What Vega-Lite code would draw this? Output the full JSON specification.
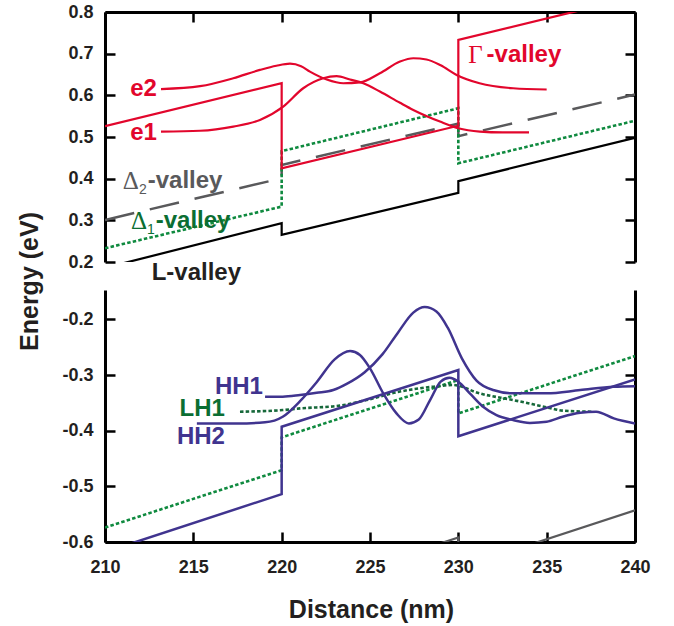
{
  "$schema": "https://vega.github.io/schema/vega-lite/v6.json",
  "background": "white",
  "padding": {"left": 17, "top": 3, "right": 5, "bottom": 5},
  "bounds": "flush",
  "spacing": 28,
  "config": {
    "view": {"stroke": null},
    "axis": {
      "grid": false, "domainColor": "black", "tickColor": "black", "domainWidth": 3, "tickWidth": 2.5, "tickSize": -10,
      "labelFont": "Liberation Sans", "labelFontWeight": "bold", "labelFontSize": 18, "labelColor": "#231f20",
      "labelFlush": false, "labelOverlap": false,
      "titleFont": "Liberation Sans", "titleFontWeight": "bold", "titleFontSize": 25, "titleColor": "#231f20"
    }
  },
  "datasets": {
    "top": [
      {"s": "L", "i": 0, "x": 210, "y": 0.186}, {"s": "L", "i": 1, "x": 220, "y": 0.293}, {"s": "L", "i": 2, "x": 220, "y": 0.265},
      {"s": "L", "i": 3, "x": 230, "y": 0.366}, {"s": "L", "i": 4, "x": 230, "y": 0.394}, {"s": "L", "i": 5, "x": 240, "y": 0.498},
      {"s": "D2", "i": 0, "x": 210, "y": 0.301}, {"s": "D2", "i": 1, "x": 220, "y": 0.401}, {"s": "D2", "i": 2, "x": 220, "y": 0.433},
      {"s": "D2", "i": 3, "x": 230, "y": 0.532}, {"s": "D2", "i": 4, "x": 230, "y": 0.502}, {"s": "D2", "i": 5, "x": 240, "y": 0.602},
      {"s": "D1", "i": 0, "x": 210, "y": 0.233}, {"s": "D1", "i": 1, "x": 220, "y": 0.333}, {"s": "D1", "i": 2, "x": 220, "y": 0.466},
      {"s": "D1", "i": 3, "x": 230, "y": 0.569}, {"s": "D1", "i": 4, "x": 230, "y": 0.437}, {"s": "D1", "i": 5, "x": 240, "y": 0.539},
      {"s": "G", "i": 0, "x": 210, "y": 0.526}, {"s": "G", "i": 1, "x": 220, "y": 0.629}, {"s": "G", "i": 2, "x": 220, "y": 0.425},
      {"s": "G", "i": 3, "x": 230, "y": 0.527}, {"s": "G", "i": 4, "x": 230, "y": 0.733}, {"s": "G", "i": 5, "x": 240, "y": 0.836},
      {"s": "e1", "i": 0, "x": 213.17, "y": 0.513}, {"s": "e1", "i": 1, "x": 215.38, "y": 0.515}, {"s": "e1", "i": 2, "x": 217.26, "y": 0.525},
      {"s": "e1", "i": 3, "x": 218.77, "y": 0.541}, {"s": "e1", "i": 4, "x": 220.09, "y": 0.573}, {"s": "e1", "i": 5, "x": 221.22, "y": 0.617},
      {"s": "e1", "i": 6, "x": 222.35, "y": 0.641}, {"s": "e1", "i": 7, "x": 223.11, "y": 0.646}, {"s": "e1", "i": 8, "x": 223.87, "y": 0.638},
      {"s": "e1", "i": 9, "x": 224.62, "y": 0.629}, {"s": "e1", "i": 10, "x": 225.56, "y": 0.609}, {"s": "e1", "i": 11, "x": 226.7, "y": 0.582},
      {"s": "e1", "i": 12, "x": 227.45, "y": 0.565}, {"s": "e1", "i": 13, "x": 228.96, "y": 0.537}, {"s": "e1", "i": 14, "x": 229.99, "y": 0.521},
      {"s": "e1", "i": 15, "x": 231.22, "y": 0.513}, {"s": "e1", "i": 16, "x": 232.5, "y": 0.511}, {"s": "e1", "i": 17, "x": 234.0, "y": 0.511},
      {"s": "e2", "i": 0, "x": 213.17, "y": 0.615}, {"s": "e2", "i": 1, "x": 215.38, "y": 0.622}, {"s": "e2", "i": 2, "x": 217.26, "y": 0.641},
      {"s": "e2", "i": 3, "x": 218.77, "y": 0.661}, {"s": "e2", "i": 4, "x": 219.7, "y": 0.671}, {"s": "e2", "i": 5, "x": 220.47, "y": 0.676},
      {"s": "e2", "i": 6, "x": 221.1, "y": 0.670}, {"s": "e2", "i": 7, "x": 221.6, "y": 0.657}, {"s": "e2", "i": 8, "x": 222.55, "y": 0.638},
      {"s": "e2", "i": 9, "x": 223.49, "y": 0.629}, {"s": "e2", "i": 10, "x": 224.43, "y": 0.631}, {"s": "e2", "i": 11, "x": 225.56, "y": 0.653},
      {"s": "e2", "i": 12, "x": 226.7, "y": 0.681}, {"s": "e2", "i": 13, "x": 227.45, "y": 0.689}, {"s": "e2", "i": 14, "x": 228.2, "y": 0.686},
      {"s": "e2", "i": 15, "x": 229.0, "y": 0.672}, {"s": "e2", "i": 16, "x": 229.9, "y": 0.649}, {"s": "e2", "i": 17, "x": 231.2, "y": 0.629},
      {"s": "e2", "i": 18, "x": 233.1, "y": 0.617}, {"s": "e2", "i": 19, "x": 235.0, "y": 0.614}
    ],
    "bot": [
      {"s": "HH", "i": 0, "x": 210, "y": -0.618}, {"s": "HH", "i": 1, "x": 220, "y": -0.514}, {"s": "HH", "i": 2, "x": 220, "y": -0.393},
      {"s": "HH", "i": 3, "x": 230, "y": -0.291}, {"s": "HH", "i": 4, "x": 230, "y": -0.410}, {"s": "HH", "i": 5, "x": 240, "y": -0.308},
      {"s": "LH", "i": 0, "x": 210, "y": -0.574}, {"s": "LH", "i": 1, "x": 220, "y": -0.471}, {"s": "LH", "i": 2, "x": 220, "y": -0.412},
      {"s": "LH", "i": 3, "x": 230, "y": -0.309}, {"s": "LH", "i": 4, "x": 230, "y": -0.369}, {"s": "LH", "i": 5, "x": 240, "y": -0.266},
      {"s": "GR", "i": 0, "x": 220, "y": -0.695}, {"s": "GR", "i": 1, "x": 230, "y": -0.592}, {"s": "GR", "i": 2, "x": 230, "y": -0.647},
      {"s": "GR", "i": 3, "x": 240, "y": -0.543},
      {"s": "HH1", "i": 0, "x": 219.06, "y": -0.339}, {"s": "HH1", "i": 1, "x": 220.06, "y": -0.339}, {"s": "HH1", "i": 2, "x": 221.04, "y": -0.336},
      {"s": "HH1", "i": 3, "x": 221.98, "y": -0.332}, {"s": "HH1", "i": 4, "x": 222.92, "y": -0.327}, {"s": "HH1", "i": 5, "x": 223.68, "y": -0.316},
      {"s": "HH1", "i": 6, "x": 224.7, "y": -0.295}, {"s": "HH1", "i": 7, "x": 225.7, "y": -0.263}, {"s": "HH1", "i": 8, "x": 226.6, "y": -0.223},
      {"s": "HH1", "i": 9, "x": 227.45, "y": -0.188}, {"s": "HH1", "i": 10, "x": 228.1, "y": -0.178}, {"s": "HH1", "i": 11, "x": 228.76, "y": -0.186},
      {"s": "HH1", "i": 12, "x": 229.4, "y": -0.215}, {"s": "HH1", "i": 13, "x": 230.2, "y": -0.270}, {"s": "HH1", "i": 14, "x": 231.03, "y": -0.310},
      {"s": "HH1", "i": 15, "x": 231.97, "y": -0.327}, {"s": "HH1", "i": 16, "x": 233.1, "y": -0.333}, {"s": "HH1", "i": 17, "x": 235.0, "y": -0.333},
      {"s": "HH1", "i": 18, "x": 236.9, "y": -0.327}, {"s": "HH1", "i": 19, "x": 238.8, "y": -0.321}, {"s": "HH1", "i": 20, "x": 240.0, "y": -0.320},
      {"s": "HH2", "i": 0, "x": 215.2, "y": -0.387}, {"s": "HH2", "i": 1, "x": 217.5, "y": -0.387}, {"s": "HH2", "i": 2, "x": 219.06, "y": -0.385},
      {"s": "HH2", "i": 3, "x": 220.06, "y": -0.375}, {"s": "HH2", "i": 4, "x": 221.04, "y": -0.347}, {"s": "HH2", "i": 5, "x": 221.98, "y": -0.313},
      {"s": "HH2", "i": 6, "x": 223.0, "y": -0.272}, {"s": "HH2", "i": 7, "x": 223.87, "y": -0.257}, {"s": "HH2", "i": 8, "x": 224.43, "y": -0.264},
      {"s": "HH2", "i": 9, "x": 225.0, "y": -0.288}, {"s": "HH2", "i": 10, "x": 225.75, "y": -0.333}, {"s": "HH2", "i": 11, "x": 226.5, "y": -0.369},
      {"s": "HH2", "i": 12, "x": 227.2, "y": -0.387}, {"s": "HH2", "i": 13, "x": 227.76, "y": -0.380}, {"s": "HH2", "i": 14, "x": 228.4, "y": -0.345},
      {"s": "HH2", "i": 15, "x": 229.0, "y": -0.312}, {"s": "HH2", "i": 16, "x": 229.5, "y": -0.305}, {"s": "HH2", "i": 17, "x": 230.0, "y": -0.312},
      {"s": "HH2", "i": 18, "x": 230.65, "y": -0.333}, {"s": "HH2", "i": 19, "x": 231.4, "y": -0.357}, {"s": "HH2", "i": 20, "x": 232.16, "y": -0.372},
      {"s": "HH2", "i": 21, "x": 233.1, "y": -0.381}, {"s": "HH2", "i": 22, "x": 234.05, "y": -0.386}, {"s": "HH2", "i": 23, "x": 235.0, "y": -0.384},
      {"s": "HH2", "i": 24, "x": 235.9, "y": -0.375}, {"s": "HH2", "i": 25, "x": 236.9, "y": -0.368}, {"s": "HH2", "i": 26, "x": 237.8, "y": -0.366},
      {"s": "HH2", "i": 27, "x": 238.8, "y": -0.378}, {"s": "HH2", "i": 28, "x": 240.0, "y": -0.387},
      {"s": "LH1", "i": 0, "x": 217.64, "y": -0.366}, {"s": "LH1", "i": 1, "x": 220.06, "y": -0.363}, {"s": "LH1", "i": 2, "x": 221.04, "y": -0.360},
      {"s": "LH1", "i": 3, "x": 223.3, "y": -0.355}, {"s": "LH1", "i": 4, "x": 224.8, "y": -0.345}, {"s": "LH1", "i": 5, "x": 226.5, "y": -0.331},
      {"s": "LH1", "i": 6, "x": 228.6, "y": -0.321}, {"s": "LH1", "i": 7, "x": 229.7, "y": -0.318}, {"s": "LH1", "i": 8, "x": 231.2, "y": -0.333},
      {"s": "LH1", "i": 9, "x": 233.1, "y": -0.345}, {"s": "LH1", "i": 10, "x": 235.0, "y": -0.358}, {"s": "LH1", "i": 11, "x": 235.9, "y": -0.364},
      {"s": "LH1", "i": 12, "x": 237.6, "y": -0.366}
    ],
    "labels": [
      {"k": "e2", "t": "e2", "x": 212.94, "y": 0.6145},
      {"k": "e1", "t": "e1", "x": 212.94, "y": 0.510},
      {"k": "Gs", "t": "Γ", "x": 230.56, "y": 0.697},
      {"k": "Gv", "t": "-valley", "x": 231.6, "y": 0.697},
      {"k": "D2s", "t": "Δ", "x": 211.0, "y": 0.395},
      {"k": "D2n", "t": "2", "x": 211.93, "y": 0.373},
      {"k": "D2v", "t": "-valley", "x": 212.42, "y": 0.395},
      {"k": "D1s", "t": "Δ", "x": 211.47, "y": 0.299},
      {"k": "D1n", "t": "1", "x": 212.38, "y": 0.277},
      {"k": "D1v", "t": "-valley", "x": 212.87, "y": 0.299},
      {"k": "Lv", "t": "L-valley", "x": 212.64, "y": 0.173},
      {"k": "HH1", "t": "HH1", "x": 218.94, "y": -0.322},
      {"k": "LH1", "t": "LH1", "x": 216.79, "y": -0.361},
      {"k": "HH2", "t": "HH2", "x": 216.79, "y": -0.411}
    ]
  },
  "vconcat": [
    {
      "width": 530,
      "height": 250,
      "resolve": {"axis": {"x": "independent", "y": "independent"}},
      "encoding": {
        "x": {"field": "x", "type": "quantitative", "scale": {"domain": [210, 240], "nice": false, "zero": false}, "axis": null},
        "y": {"field": "y", "type": "quantitative", "scale": {"domain": [0.2, 0.8], "nice": false, "zero": false}, "axis": null},
        "order": {"field": "i"}
      },
      "layer": [
        {
          "data": {"name": "top"},
          "transform": [{"filter": "datum.s === 'L'"}],
          "mark": {"type": "line", "color": "black", "strokeWidth": 2.2, "clip": true},
          "encoding": {
            "x": {"field": "x", "type": "quantitative", "scale": {"domain": [210, 240], "nice": false, "zero": false},
                  "axis": {"orient": "top", "values": [210, 215, 220, 225, 230, 235, 240], "labels": false, "title": null}},
            "y": {"field": "y", "type": "quantitative", "scale": {"domain": [0.2, 0.8], "nice": false, "zero": false},
                  "axis": {"orient": "left", "values": [0.2, 0.3, 0.4, 0.5, 0.6, 0.7, 0.8], "format": ".1f", "labelPadding": 22,
                           "title": "Energy (eV)", "titleAngle": 270, "titleX": -68, "titleY": 269, "titleAlign": "center", "titleBaseline": "alphabetic"}}
          }
        },
        {
          "data": {"name": "top"},
          "transform": [{"filter": "datum.s === 'D2'"}],
          "mark": {"type": "line", "color": "#59595b", "strokeWidth": 2.5, "strokeDash": [30, 16], "clip": true},
          "encoding": {
            "y": {"field": "y", "type": "quantitative", "scale": {"domain": [0.2, 0.8], "nice": false, "zero": false},
                  "axis": {"orient": "right", "values": [0.2, 0.3, 0.4, 0.5, 0.6, 0.7, 0.8], "labels": false, "title": null}}
          }
        },
        {
          "data": {"name": "top"},
          "transform": [{"filter": "datum.s === 'D1'"}],
          "mark": {"type": "line", "color": "#0f8a3f", "strokeWidth": 2.6, "strokeDash": [3.5, 2.2], "clip": true}
        },
        {
          "data": {"name": "top"},
          "transform": [{"filter": "datum.s === 'G'"}],
          "mark": {"type": "line", "color": "#e2062c", "strokeWidth": 2.2, "clip": true}
        },
        {
          "data": {"name": "top"},
          "transform": [{"filter": "datum.s === 'e1' || datum.s === 'e2'"}],
          "mark": {"type": "line", "color": "#e2062c", "strokeWidth": 2.2, "interpolate": "monotone", "clip": true},
          "encoding": {"detail": {"field": "s"}}
        },
        {
          "data": {"name": "labels"},
          "transform": [{"filter": "datum.k === 'e1' || datum.k === 'e2'"}],
          "mark": {"type": "text", "align": "right", "baseline": "middle", "font": "Liberation Sans", "fontWeight": "bold", "fontSize": 24, "color": "#e2062c"},
          "encoding": {"text": {"field": "t"}}
        },
        {
          "data": {"name": "labels"},
          "transform": [{"filter": "datum.k === 'Gs'"}],
          "mark": {"type": "text", "align": "left", "baseline": "middle", "font": "Liberation Serif", "fontSize": 25, "color": "#e2062c"},
          "encoding": {"text": {"field": "t"}}
        },
        {
          "data": {"name": "labels"},
          "transform": [{"filter": "datum.k === 'Gv'"}],
          "mark": {"type": "text", "align": "left", "baseline": "middle", "font": "Liberation Sans", "fontWeight": "bold", "fontSize": 24, "color": "#e2062c"},
          "encoding": {"text": {"field": "t"}}
        },
        {
          "data": {"name": "labels"},
          "transform": [{"filter": "datum.k === 'D2s'"}],
          "mark": {"type": "text", "align": "left", "baseline": "middle", "font": "Liberation Serif", "fontSize": 25, "color": "#59595b"},
          "encoding": {"text": {"field": "t"}}
        },
        {
          "data": {"name": "labels"},
          "transform": [{"filter": "datum.k === 'D2n'"}],
          "mark": {"type": "text", "align": "left", "baseline": "middle", "font": "Liberation Sans", "fontSize": 14, "color": "#59595b"},
          "encoding": {"text": {"field": "t"}}
        },
        {
          "data": {"name": "labels"},
          "transform": [{"filter": "datum.k === 'D2v'"}],
          "mark": {"type": "text", "align": "left", "baseline": "middle", "font": "Liberation Sans", "fontWeight": "bold", "fontSize": 24, "color": "#59595b"},
          "encoding": {"text": {"field": "t"}}
        },
        {
          "data": {"name": "labels"},
          "transform": [{"filter": "datum.k === 'D1s'"}],
          "mark": {"type": "text", "align": "left", "baseline": "middle", "font": "Liberation Serif", "fontSize": 25, "color": "#0b6e33"},
          "encoding": {"text": {"field": "t"}}
        },
        {
          "data": {"name": "labels"},
          "transform": [{"filter": "datum.k === 'D1n'"}],
          "mark": {"type": "text", "align": "left", "baseline": "middle", "font": "Liberation Sans", "fontSize": 14, "color": "#0b6e33"},
          "encoding": {"text": {"field": "t"}}
        },
        {
          "data": {"name": "labels"},
          "transform": [{"filter": "datum.k === 'D1v'"}],
          "mark": {"type": "text", "align": "left", "baseline": "middle", "font": "Liberation Sans", "fontWeight": "bold", "fontSize": 24, "color": "#0b6e33"},
          "encoding": {"text": {"field": "t"}}
        },
        {
          "data": {"name": "labels"},
          "transform": [{"filter": "datum.k === 'Lv'"}],
          "mark": {"type": "text", "align": "left", "baseline": "middle", "font": "Liberation Sans", "fontWeight": "bold", "fontSize": 24, "color": "#231f20"},
          "encoding": {"text": {"field": "t"}}
        }
      ]
    },
    {
      "width": 530,
      "height": 252,
      "resolve": {"axis": {"x": "independent", "y": "independent"}},
      "encoding": {
        "x": {"field": "x", "type": "quantitative", "scale": {"domain": [210, 240], "nice": false, "zero": false}, "axis": null},
        "y": {"field": "y", "type": "quantitative", "scale": {"domain": [-0.6, -0.1473], "nice": false, "zero": false}, "axis": null},
        "order": {"field": "i"}
      },
      "layer": [
        {
          "data": {"name": "bot"},
          "transform": [{"filter": "datum.s === 'GR'"}],
          "mark": {"type": "line", "color": "#59595b", "strokeWidth": 2.2, "clip": true},
          "encoding": {
            "x": {"field": "x", "type": "quantitative", "scale": {"domain": [210, 240], "nice": false, "zero": false},
                  "axis": {"orient": "bottom", "values": [210, 215, 220, 225, 230, 235, 240], "labelPadding": 26,
                           "title": "Distance (nm)", "titleX": 266, "titleY": 75, "titleAlign": "center", "titleBaseline": "alphabetic"}},
            "y": {"field": "y", "type": "quantitative", "scale": {"domain": [-0.6, -0.1473], "nice": false, "zero": false},
                  "axis": {"orient": "left", "values": [-0.6, -0.5, -0.4, -0.3, -0.2], "labelPadding": 22, "title": null,
                           "labelExpr": "replace(format(datum.value, '.1f'), '\u2212', '-')"}}
          }
        },
        {
          "data": {"name": "bot"},
          "transform": [{"filter": "datum.s === 'LH'"}],
          "mark": {"type": "line", "color": "#0f8a3f", "strokeWidth": 2.6, "strokeDash": [3.5, 2.2], "clip": true},
          "encoding": {
            "y": {"field": "y", "type": "quantitative", "scale": {"domain": [-0.6, -0.1473], "nice": false, "zero": false},
                  "axis": {"orient": "right", "values": [-0.6, -0.5, -0.4, -0.3, -0.2], "labels": false, "title": null}}
          }
        },
        {
          "data": {"name": "bot"},
          "transform": [{"filter": "datum.s === 'LH1'"}],
          "mark": {"type": "line", "color": "#16683a", "strokeWidth": 2.6, "strokeDash": [3.5, 2.2], "interpolate": "monotone", "clip": true}
        },
        {
          "data": {"name": "bot"},
          "transform": [{"filter": "datum.s === 'HH'"}],
          "mark": {"type": "line", "color": "#40348f", "strokeWidth": 2.5, "clip": true}
        },
        {
          "data": {"name": "bot"},
          "transform": [{"filter": "datum.s === 'HH1' || datum.s === 'HH2'"}],
          "mark": {"type": "line", "color": "#40348f", "strokeWidth": 2.5, "interpolate": "monotone", "clip": true},
          "encoding": {"detail": {"field": "s"}}
        },
        {
          "data": {"name": "labels"},
          "transform": [{"filter": "datum.k === 'HH1' || datum.k === 'HH2'"}],
          "mark": {"type": "text", "align": "right", "baseline": "middle", "font": "Liberation Sans", "fontWeight": "bold", "fontSize": 24, "color": "#40348f"},
          "encoding": {"text": {"field": "t"}}
        },
        {
          "data": {"name": "labels"},
          "transform": [{"filter": "datum.k === 'LH1'"}],
          "mark": {"type": "text", "align": "right", "baseline": "middle", "font": "Liberation Sans", "fontWeight": "bold", "fontSize": 24, "color": "#0b6e33"},
          "encoding": {"text": {"field": "t"}}
        }
      ]
    }
  ]
}
